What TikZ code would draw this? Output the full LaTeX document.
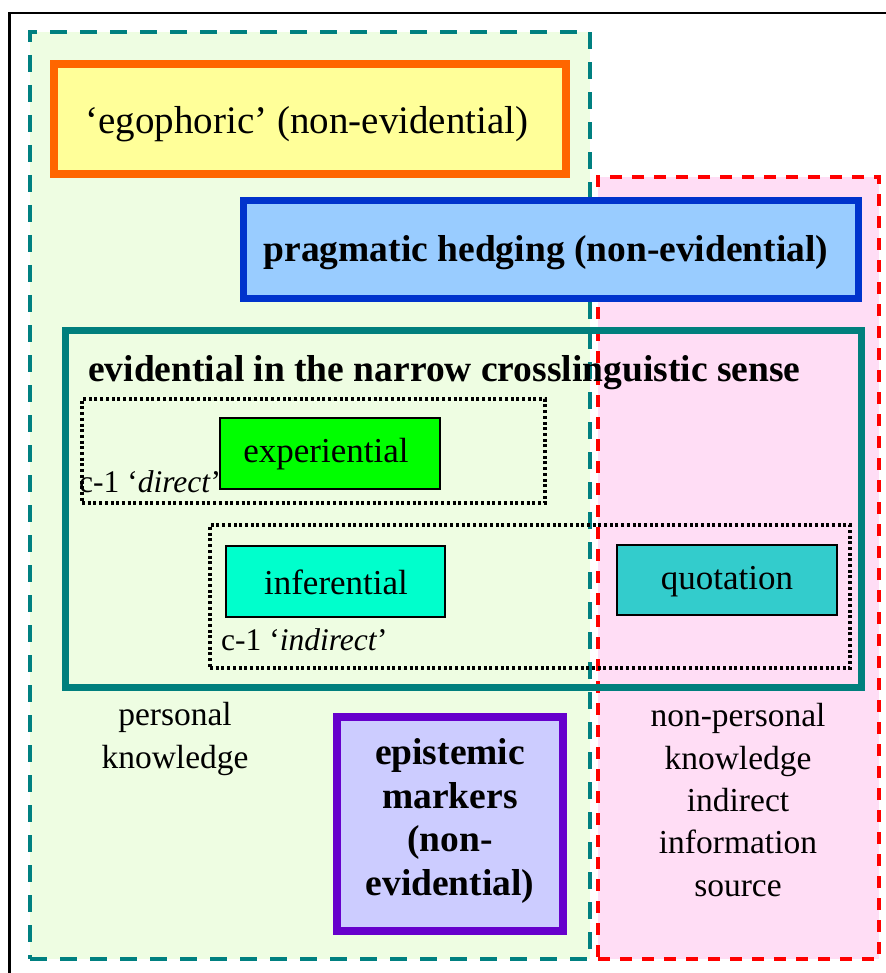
\documentclass[tikz,border=0pt]{standalone}
\usepackage{fontspec}
\setmainfont{Liberation Serif}
\definecolor{greenbg}{HTML}{EEFDE2}
\definecolor{pinkbg}{HTML}{FFDDF5}
\definecolor{tealdash}{HTML}{008080}
\definecolor{reddash}{HTML}{FF0000}
\definecolor{orangeline}{HTML}{FF6600}
\definecolor{yellowfill}{HTML}{FFFF99}
\definecolor{blueline}{HTML}{0033CC}
\definecolor{bluefill}{HTML}{99CCFF}
\definecolor{tealline}{HTML}{007F7D}
\definecolor{expgreen}{HTML}{00FF00}
\definecolor{inffill}{HTML}{00FFCC}
\definecolor{quotfill}{HTML}{33CCCC}
\definecolor{purpleline}{HTML}{6600CC}
\definecolor{purplefill}{HTML}{CCCCFF}
\begin{document}
\begin{tikzpicture}[x=1pt,y=-1pt,
  box/.style={rectangle, inner sep=0pt, anchor=center},
  region/.style={box, line width=4pt},
  bigbox/.style={box, line width=7.5pt},
  smallbox/.style={box, draw=black, line width=1.8pt},
  dotbox/.style={box, draw=black, line width=3.2pt, dash pattern=on 3pt off 2.7pt},
  txt/.style={inner sep=0pt, align=center},
  lbl/.style={txt, font=\fontsize{35}{40}\selectfont},
  side/.style={txt, font=\fontsize{33.5}{42.3}\selectfont},
  boldlbl/.style={txt, font=\fontsize{37.5}{43.6}\selectfont\bfseries}]
\useasboundingbox (0,0) rectangle (885,973);
\fill[white] (0,0) rectangle (885,973);
\coordinate (fbl) at (9.5,980);
\coordinate (ftl) at (9.5,13);
\coordinate (ftr) at (890,13);
\draw[line width=2.6pt] (fbl) -- (ftl) -- (ftr);
% regions
\node[region, draw=tealdash, fill=greenbg, dash pattern=on 17pt off 13pt,
  minimum width=560pt, minimum height=927pt] (persreg) at (310,495.5) {};
\node[region, draw=reddash, fill=pinkbg, dash pattern=on 12pt off 10pt,
  minimum width=281pt, minimum height=782pt] (nonpersreg) at (738.5,568) {};
% big boxes
\node[bigbox, draw=orangeline, fill=yellowfill, line width=8pt,
  minimum width=512pt, minimum height=110pt] (egobox) at (310,119) {};
\node[lbl, font=\fontsize{39}{44}\selectfont] (egotxt) at (307,124) {‘egophoric’ (non-evidential)};
\node[bigbox, draw=blueline, fill=bluefill, line width=7pt,
  minimum width=615pt, minimum height=98pt] (hedgebox) at (551,249.5) {};
\node[boldlbl] (hedgetxt) at (546,253) {pragmatic hedging (non-evidential)};
\node[bigbox, draw=tealline, line width=7pt,
  minimum width=796pt, minimum height=357pt] (evidbox) at (463.5,509) {};
\node[boldlbl, anchor=west] (evidtxt) at (88,373) {evidential in the narrow crosslinguistic sense};
% dotted groups
\node[dotbox, minimum width=463pt, minimum height=104pt] (directgrp) at (313.5,451) {};
\node[dotbox, minimum width=640pt, minimum height=143pt] (indirectgrp) at (530,596.5) {};
\node[txt, anchor=west, font=\fontsize{31.5}{36}\selectfont] (directlbl) at (79,482) {c-1 ‘\textit{direct}’};
\node[txt, anchor=west, font=\fontsize{31.5}{36}\selectfont] (indirectlbl) at (221,640) {c-1 ‘\textit{indirect}’};
% category boxes
\node[smallbox, fill=expgreen, minimum width=220pt, minimum height=71pt] (exper) at (330,453.5) {};
\node[lbl] (expertxt) at (326,454) {experiential};
\node[smallbox, fill=inffill, minimum width=219pt, minimum height=71pt] (infer) at (335.5,581.5) {};
\node[lbl] (infertxt) at (336,582) {inferential};
\node[smallbox, fill=quotfill, minimum width=220pt, minimum height=70pt] (quot) at (727,580) {};
\node[lbl] (quottxt) at (727,582) {quotation};
% epistemic
\node[bigbox, draw=purpleline, fill=purplefill, line width=8pt,
  minimum width=226pt, minimum height=214pt] (epist) at (450,824) {};
\node[boldlbl] (epistxt) at (450,821) {epistemic\\markers\\(non-\\evidential)};
% side labels
\node[side] (perstxt) at (175,739) {personal\\knowledge};
\node[side] (nonperstxt) at (738,800) {non-personal\\knowledge\\indirect\\information\\source};
\end{tikzpicture}
\end{document}
